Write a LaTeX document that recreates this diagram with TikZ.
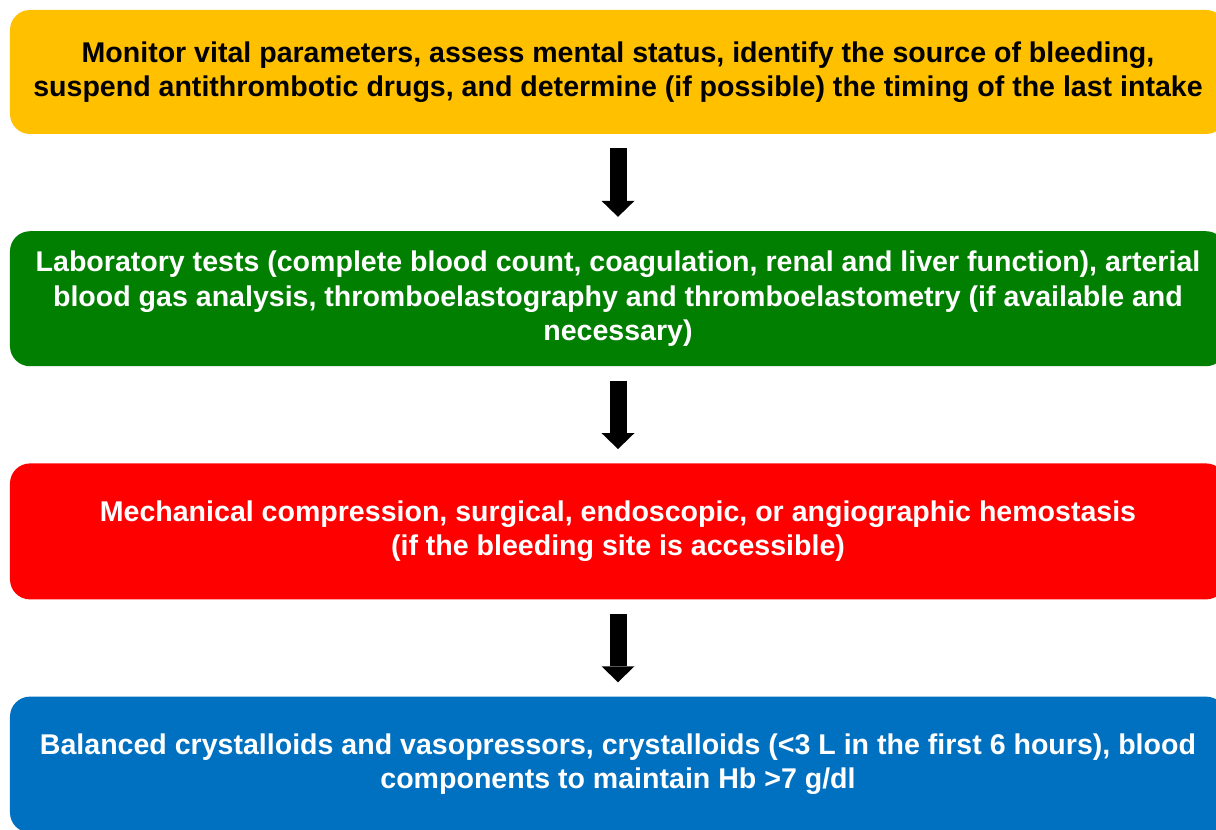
\documentclass[tikz,border=0pt]{standalone}
\usepackage{fontspec}
\setmainfont{Liberation Sans}
\usetikzlibrary{arrows.meta,positioning}
\definecolor{boxyellow}{HTML}{FFC000}
\definecolor{boxgreen}{HTML}{007F00}
\definecolor{boxred}{HTML}{FF0000}
\definecolor{boxblue}{HTML}{0070C0}

\begin{document}
\begin{tikzpicture}[node distance=1.93cm,
  box/.style={rounded corners=0.4cm, minimum width=24.32cm, inner sep=0pt, align=center, font=\bfseries\fontsize{16.25}{19.4}\selectfont},
  down/.style={line width=0.34cm, -{Triangle[width=0.66cm,length=0.32cm,line width=0pt]}, shorten <=0.28cm, shorten >=0.28cm}]
\useasboundingbox (0,0) rectangle (24.32,-16.6);
\node[box, fill=boxyellow, minimum height=2.48cm] (B1) at (12.36,-1.44) {Monitor vital parameters, assess mental status, identify the source of bleeding,\\suspend antithrombotic drugs, and determine (if possible) the timing of the last intake};
\node[box, fill=boxgreen, text=white, minimum height=2.7cm, below=of B1] (B2) {Laboratory tests (complete blood count, coagulation, renal and liver function), arterial\\blood gas analysis, thromboelastography and thromboelastometry (if available and\\necessary)};
\node[box, fill=boxred, text=white, minimum height=2.72cm, below=of B2] (B3) {Mechanical compression, surgical, endoscopic, or angiographic hemostasis\\(if the bleeding site is accessible)};
\node[box, fill=boxblue, text=white, minimum height=2.72cm, below=of B3] (B4) {Balanced crystalloids and vasopressors, crystalloids (<3 L in the first 6 hours), blood\\components to maintain Hb >7 g/dl};
\path[down] (B1) edge (B2)
            (B2) edge (B3)
            (B3) edge (B4);
\end{tikzpicture}
\end{document}
